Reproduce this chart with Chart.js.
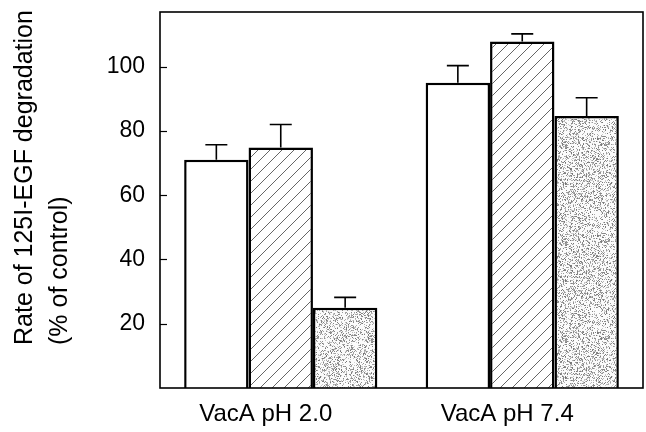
<!DOCTYPE html>
<html>
<head>
<meta charset="utf-8">
<script src="https://cdn.jsdelivr.net/npm/chart.js@4.4.1/dist/chart.umd.min.js"></script>
<style>
html,body{margin:0;padding:0;background:#fff;}
#wrap{width:646px;height:432px;position:relative;}
</style>
</head>
<body>
<div id="wrap"><canvas id="c" width="646" height="432"></canvas></div>
<script>
// ---- data ----
const categories = ['VacA pH 2.0', 'VacA pH 7.4'];
const openValues = [71, 95];
const openErrors = [4.7, 5.3];
const hatchedValues = [74.8, 107.8];
const hatchedErrors = [7.2, 2.4];
const stippleValues = [25, 84.6];
const stippleErrors = [3.2, 5.7];
const yTicks = [20, 40, 60, 80, 100];
const yTitleLines = ['Rate of 125I-EGF degradation', '(% of control)'];

const FONT = '"Liberation Sans", Arial, sans-serif';

// ---- textures ----
function hatchPattern() {
  const s = 12;
  const c = document.createElement('canvas');
  c.width = s; c.height = s;
  const g = c.getContext('2d');
  g.fillStyle = '#fff'; g.fillRect(0, 0, s, s);
  g.strokeStyle = '#666'; g.lineWidth = 1;
  for (const off of [-s, 0, s]) {
    g.beginPath();
    g.moveTo(off, s); g.lineTo(off + s, 0);
    g.stroke();
  }
  return g.createPattern(c, 'repeat');
}
function stipplePattern() {
  const s = 97;
  const c = document.createElement('canvas');
  c.width = s; c.height = s;
  const g = c.getContext('2d');
  g.fillStyle = '#fbfbfb'; g.fillRect(0, 0, s, s);
  let h = 12345;
  for (let y = 0; y < s; y++) {
    for (let x = 0; x < s; x++) {
      h = (h * 1103515245 + 12345) & 0x7fffffff;
      const r = (h >>> 8) % 1000;
      if (r < 340) {
        const shade = 115 + (r % 100);
        g.fillStyle = 'rgb(' + shade + ',' + shade + ',' + shade + ')';
        g.fillRect(x, y, 1, 1);
      }
    }
  }
  return g.createPattern(c, 'repeat');
}

const errorSets = [openErrors, hatchedErrors, stippleErrors];

const extras = {
  id: 'extras',
  afterDatasetsDraw(chart) {
    const ctx = chart.ctx;
    const ys = chart.scales.y;
    const a = chart.chartArea;
    ctx.save();
    // error bars (upper only)
    ctx.strokeStyle = '#000';
    ctx.lineWidth = 1.6;
    chart.data.datasets.forEach((ds, i) => {
      const meta = chart.getDatasetMeta(i);
      meta.data.forEach((bar, j) => {
        const v = ds.data[j];
        const e = errorSets[i][j];
        const yTop = ys.getPixelForValue(v + e);
        ctx.beginPath();
        ctx.moveTo(bar.x, bar.y);
        ctx.lineTo(bar.x, yTop);
        ctx.moveTo(bar.x - 11, yTop);
        ctx.lineTo(bar.x + 11, yTop);
        ctx.stroke();
      });
    });
    // frame
    ctx.lineWidth = 1.6;
    ctx.strokeRect(a.left, a.top, a.right - a.left, a.bottom - a.top);
    // inward y ticks
    ctx.lineWidth = 1.2;
    yTicks.forEach(v => {
      const y = Math.round(ys.getPixelForValue(v)) + 0.5;
      ctx.beginPath();
      ctx.moveTo(a.left, y);
      ctx.lineTo(a.left + 7, y);
      ctx.stroke();
    });
    // rotated y title, left-aligned from bottom
    ctx.fillStyle = '#000';
    ctx.font = '25px ' + FONT;
    ctx.textAlign = 'left';
    ctx.textBaseline = 'alphabetic';
    const baselines = [32, 67];
    yTitleLines.forEach((t, k) => {
      ctx.save();
      ctx.translate(baselines[k], 345);
      ctx.rotate(-Math.PI / 2);
      ctx.fillText(t, 0, 0);
      ctx.restore();
    });
    ctx.restore();
  }
};

const common = { borderColor: '#000', borderWidth: 2.5, barPercentage: 1.0, categoryPercentage: 0.8 };

new Chart(document.getElementById('c'), {
  type: 'bar',
  data: {
    labels: categories,
    datasets: [
      Object.assign({ label: 'open', data: openValues, backgroundColor: '#fff' }, common),
      Object.assign({ label: 'hatched', data: hatchedValues, backgroundColor: hatchPattern() }, common),
      Object.assign({ label: 'stipple', data: stippleValues, backgroundColor: stipplePattern() }, common)
    ]
  },
  options: {
    responsive: false,
    animation: false,
    devicePixelRatio: 1,
    layout: { padding: { top: 12, right: 3, left: 0, bottom: 0 } },
    plugins: { legend: { display: false }, tooltip: { enabled: false } },
    scales: {
      x: {
        grid: { display: false, drawTicks: false },
        border: { display: false },
        ticks: { color: '#000', font: { family: FONT, size: 24 }, padding: 12, labelOffset: -15, maxRotation: 0 },
        afterFit(s) { s.height = 44; s.paddingLeft = 0; s.paddingRight = 0; }
      },
      y: {
        min: 0, max: 117,
        grid: { display: false, drawTicks: false },
        border: { display: false },
        afterBuildTicks(s) { s.ticks = yTicks.map(v => ({ value: v })); },
        ticks: { color: '#000', font: { family: FONT, size: 23 }, padding: 15 },
        afterFit(s) { s.width = 160; s.paddingTop = 0; s.paddingBottom = 0; }
      }
    }
  },
  plugins: [extras]
});
</script>
</body>
</html>
